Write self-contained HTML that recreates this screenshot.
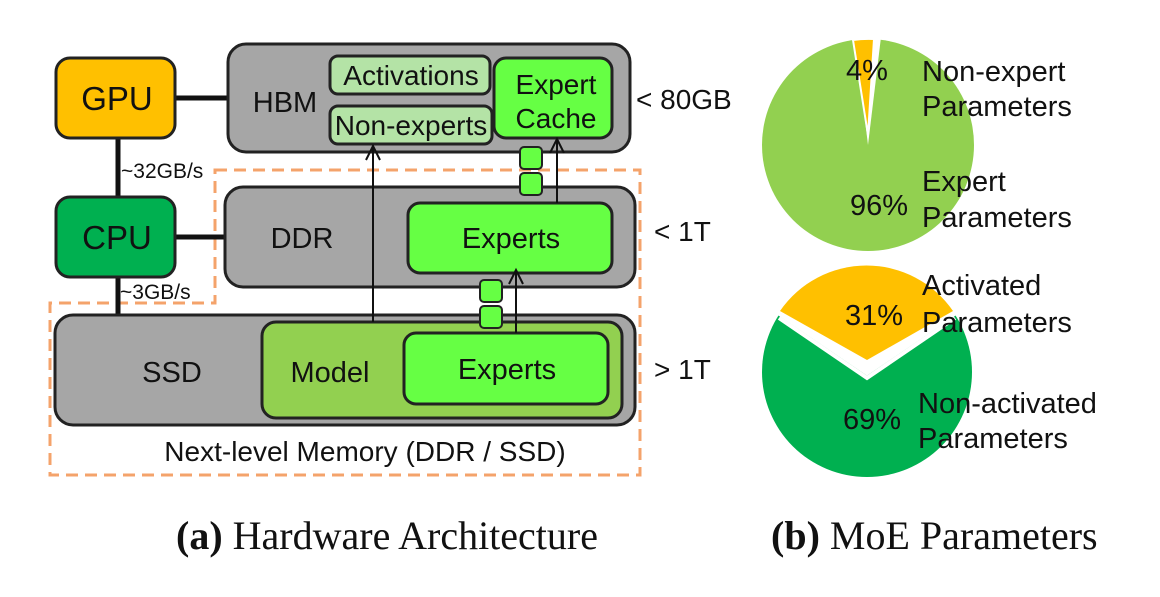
<!DOCTYPE html>
<html><head><meta charset="utf-8"><style>
body{margin:0;background:#fff;}
svg text{font-family:"Liberation Sans",Arial,sans-serif;fill:#111;}
</style></head><body>
<svg width="1160" height="592" viewBox="0 0 1160 592" xmlns="http://www.w3.org/2000/svg">
<!-- dashed region -->
<path d="M215,170 L640,170 L640,475 L50,475 L50,303 L215,303 Z" fill="none" stroke="#f4a36b" stroke-width="3" stroke-dasharray="12,7"/>
<!-- connectors -->
<g stroke="#111" stroke-width="5">
<line x1="175" y1="98" x2="228" y2="98"/>
<line x1="118" y1="137" x2="118" y2="197"/>
<line x1="175" y1="237" x2="225" y2="237"/>
<line x1="118" y1="277" x2="118" y2="315"/>
</g>
<g stroke="#222" stroke-width="3" fill="#a6a6a6">
<rect x="228" y="44" width="402" height="108" rx="18"/>
<rect x="225" y="187" width="410" height="100" rx="18"/>
<rect x="55" y="315" width="580" height="110" rx="18"/>
</g>
<g stroke="#222" stroke-width="3">
<rect x="56" y="58" width="119" height="80" rx="14" fill="#ffc000"/>
<rect x="56" y="197" width="119" height="80" rx="14" fill="#00b050"/>
<rect x="330" y="56" width="160" height="38" rx="8" fill="#b4e3a6"/>
<rect x="330" y="106" width="162" height="38" rx="8" fill="#b4e3a6"/>
<rect x="494" y="58" width="118" height="80" rx="12" fill="#66ff44"/>
<rect x="408" y="203" width="204" height="70" rx="12" fill="#66ff44"/>
<rect x="262" y="322" width="360" height="96" rx="14" fill="#92d050"/>
<rect x="404" y="333" width="204" height="71" rx="12" fill="#66ff44"/>
</g>
<g stroke="#222" stroke-width="2" fill="#66ff44">
<rect x="520" y="147" width="22" height="22" rx="4"/>
<rect x="520" y="173" width="22" height="22" rx="4"/>
<rect x="480" y="280" width="22" height="22" rx="4"/>
<rect x="480" y="306" width="22" height="22" rx="4"/>
</g>
<g stroke="#111" stroke-width="2" fill="none">
<line x1="373" y1="322" x2="373" y2="146"/>
<path d="M366,160 L373,146 L380,160"/>
<line x1="557" y1="203" x2="557" y2="139"/>
<path d="M550,153 L557,139 L564,153"/>
<line x1="516" y1="333" x2="516" y2="270"/>
<path d="M509,284 L516,270 L523,284"/>
</g>
<g font-size="29" text-anchor="middle">
<text x="117" y="110" font-size="33">GPU</text>
<text x="117" y="249" font-size="33">CPU</text>
<text x="285" y="112">HBM</text>
<text x="411" y="85" font-size="28">Activations</text>
<text x="411" y="135" font-size="28">Non-experts</text>
<text x="556" y="94" font-size="28">Expert</text>
<text x="556" y="128" font-size="28">Cache</text>
<text x="302" y="248">DDR</text>
<text x="511" y="248">Experts</text>
<text x="172" y="382">SSD</text>
<text x="330" y="382">Model</text>
<text x="507" y="379">Experts</text>
<text x="365" y="461" font-size="28">Next-level Memory (DDR / SSD)</text>
</g>
<g font-size="21">
<text x="121" y="178">~32GB/s</text>
<text x="120" y="299">~3GB/s</text>
</g>
<g font-size="28">
<text x="636" y="109">&lt; 80GB</text>
<text x="654" y="241">&lt; 1T</text>
<text x="654" y="379">&gt; 1T</text>
</g>
<!-- pies -->
<circle cx="868" cy="145" r="106" fill="#92d050"/>
<path d="M868,145 L855,37 A108,108 0 0 1 881,37 Z" fill="#fff"/>
<path d="M868,135 L853,40 A105,105 0 0 1 874,39 Z" fill="#ffc000" stroke="#fff" stroke-width="2"/>
<circle cx="867" cy="372" r="105" fill="#00b050"/>
<path d="M867,372 L780,313 A105,105 0 0 1 954,313 Z" fill="#fff" stroke="#fff" stroke-width="6"/>
<path d="M867,360 L780,311 A105,105 0 0 1 953,311 Z" fill="#ffc000"/>
<path d="M779,318 L867,378 L955,318" fill="none" stroke="#fff" stroke-width="4"/>
<g font-size="29">
<text x="846" y="80">4%</text>
<text x="850" y="215">96%</text>
<text x="845" y="325">31%</text>
<text x="843" y="429">69%</text>
<text x="922" y="81">Non-expert</text>
<text x="922" y="116">Parameters</text>
<text x="922" y="191">Expert</text>
<text x="922" y="227">Parameters</text>
<text x="922" y="295">Activated</text>
<text x="922" y="332">Parameters</text>
<text x="918" y="413">Non-activated</text>
<text x="918" y="448">Parameters</text>
</g>
<text x="176" y="549" font-size="40" style="font-family:'Liberation Serif',serif"><tspan font-weight="bold">(a)</tspan> Hardware Architecture</text>
<text x="771" y="549" font-size="40" style="font-family:'Liberation Serif',serif"><tspan font-weight="bold">(b)</tspan> MoE Parameters</text>
</svg>
</body></html>
